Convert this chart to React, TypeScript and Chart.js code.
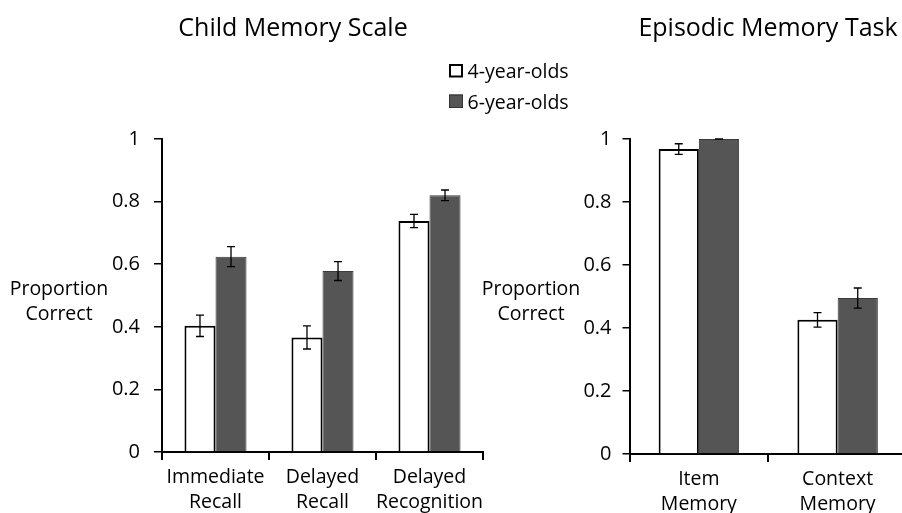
import React, { useEffect, useRef } from 'react';
import { Chart, registerables } from 'chart.js';

Chart.register(...registerables);

const FONT = '"Open Sans", Lato, sans-serif';

// ---- Data ----
const seriesLabels = ['4-year-olds', '6-year-olds'];

const memoryTitle = 'Child Memory Scale';
const memoryCategories = [['Immediate', 'Recall'], ['Delayed', 'Recall'], ['Delayed', 'Recognition']];
const memory4 = [0.403, 0.366, 0.738];
const memory4Err = [0.034, 0.037, 0.021];
const memory6 = [0.624, 0.578, 0.82];
const memory6Err = [0.032, 0.03, 0.017];

const episodicTitle = 'Episodic Memory Task';
const episodicCategories = [['Item', 'Memory'], ['Context', 'Memory']];
const episodic4 = [0.968, 0.426];
const episodic4Err = [0.017, 0.023];
const episodic6 = [1.0, 0.495];
const episodic6Err = [0, 0.032];

const yAxisTitle = ['Proportion', 'Correct'];
const yTickLabels = ['0', '0.2', '0.4', '0.6', '0.8', '1'];
const yMin = 0;
const yMax = 1;
const yStep = 0.2;

// ---- Styles ----
const LIGHT = '#ffffff';
const DARK = '#555555';
const H = 513;

type PanelSpec = {
  width: number;
  plotLeft: number;
  plotRight: number;
  plotTop: number;
  plotBottom: number;
  yTickLen: number;
  yTickPad: number;
  title: string;
  titleX: number;
  yTitleX: number;
  showLegend: boolean;
  categories: string[][];
  v4: number[];
  e4: number[];
  v6: number[];
  e6: number[];
};

function makeConfig(p: PanelSpec): any {
  const errorBars = {
    id: 'errorBars',
    afterDatasetsDraw(chart: any) {
      const ctx = chart.ctx;
      const yScale = chart.scales.y;
      const errs = [p.e4, p.e6];
      const vals = [p.v4, p.v6];
      ctx.save();
      ctx.strokeStyle = '#000';
      ctx.lineWidth = 1.3;
      for (let d = 0; d < 2; d++) {
        const meta = chart.getDatasetMeta(d);
        meta.data.forEach((bar: any, i: number) => {
          const v = vals[d][i];
          const e = errs[d][i];
          const x = bar.x;
          const yt = yScale.getPixelForValue(v + e);
          const yb = yScale.getPixelForValue(v - e);
          const cap = 4;
          ctx.beginPath();
          ctx.moveTo(x, yt);
          ctx.lineTo(x, yb);
          ctx.moveTo(x - cap, yt);
          ctx.lineTo(x + cap, yt);
          ctx.moveTo(x - cap, yb);
          ctx.lineTo(x + cap, yb);
          ctx.stroke();
        });
      }
      ctx.restore();
    },
  };

  const overlay = {
    id: 'overlay',
    afterDraw(chart: any) {
      const ctx = chart.ctx;
      ctx.save();
      ctx.fillStyle = '#000';
      // title
      ctx.font = `25px ${FONT}`;
      ctx.textAlign = 'center';
      ctx.textBaseline = 'alphabetic';
      ctx.fillText(p.title, p.titleX, 35.5);
      // horizontal y-axis title
      ctx.font = `19.5px ${FONT}`;
      ctx.fillText(yAxisTitle[0], p.yTitleX, 295);
      ctx.fillText(yAxisTitle[1], p.yTitleX, 320);
      // legend
      if (p.showLegend) {
        const fills = [LIGHT, DARK];
        const borders = ['#000', '#333'];
        ctx.textAlign = 'left';
        ctx.font = `19.5px ${FONT}`;
        for (let i = 0; i < 2; i++) {
          const top = 64 + i * 30.5;
          ctx.fillStyle = fills[i];
          ctx.fillRect(449, top, 14, 13.5);
          ctx.strokeStyle = borders[i];
          ctx.lineWidth = i === 0 ? 2 : 1;
          ctx.strokeRect(449 + (i === 0 ? 1 : 0.5), top + (i === 0 ? 1 : 0.5), i === 0 ? 12 : 13, i === 0 ? 11.5 : 12.5);
          ctx.fillStyle = '#000';
          ctx.fillText(seriesLabels[i], 467.5, 77.5 + i * 31);
        }
      }
      ctx.restore();
    },
  };

  return {
    type: 'bar',
    data: {
      labels: p.categories,
      datasets: [
        {
          label: seriesLabels[0],
          data: p.v4,
          backgroundColor: LIGHT,
          borderColor: '#000',
          borderWidth: 2,
          borderSkipped: 'start',
          categoryPercentage: 0.58,
          barPercentage: 1.0,
        },
        {
          label: seriesLabels[1],
          data: p.v6,
          backgroundColor: DARK,
          borderColor: '#3a3a3a',
          borderWidth: 1,
          borderSkipped: 'start',
          categoryPercentage: 0.58,
          barPercentage: 1.0,
        },
      ],
    },
    options: {
      responsive: false,
      animation: false,
      events: [],
      layout: {
        padding: { left: 0, right: p.width - p.plotRight, top: p.plotTop, bottom: 0 },
      },
      plugins: {
        legend: { display: false },
        title: { display: false },
        tooltip: { enabled: false },
      },
      scales: {
        x: {
          type: 'category',
          offset: true,
          afterFit(s: any) {
            s.height = H - p.plotBottom;
          },
          grid: {
            offset: true,
            drawOnChartArea: false,
            drawTicks: true,
            tickLength: 8,
            color: '#000',
            lineWidth: 2,
          },
          border: { display: true, color: '#000', width: 2 },
          ticks: {
            color: '#000',
            font: { family: FONT, size: 19.5, lineHeight: 1.28 },
            padding: 4.5,
            maxRotation: 0,
            autoSkip: false,
          },
        },
        y: {
          type: 'linear',
          min: yMin,
          max: yMax,
          afterFit(s: any) {
            s.width = p.plotLeft;
          },
          grid: {
            drawOnChartArea: false,
            drawTicks: true,
            tickLength: p.yTickLen,
            color: '#000',
            lineWidth: 1.5,
          },
          border: { display: true, color: '#000', width: 2 },
          ticks: {
            stepSize: yStep,
            color: '#000',
            font: { family: FONT, size: 20 },
            padding: p.yTickPad,
            callback: (_v: any, i: number) => yTickLabels[i],
          },
        },
      },
    },
    plugins: [errorBars, overlay],
  };
}

function Panel({ left, spec }: { left: number; spec: PanelSpec }) {
  const ref = useRef<HTMLCanvasElement>(null);
  useEffect(() => {
    const chart = new Chart(ref.current as HTMLCanvasElement, makeConfig(spec));
    return () => chart.destroy();
  }, []);
  return (
    <canvas
      ref={ref}
      width={spec.width}
      height={H}
      style={{ position: 'absolute', left, top: 0, width: spec.width, height: H }}
    />
  );
}

const leftSpec: PanelSpec = {
  width: 620,
  plotLeft: 162,
  plotRight: 483,
  plotTop: 139,
  plotBottom: 452,
  yTickLen: 8,
  yTickPad: 14,
  title: memoryTitle,
  titleX: 293,
  yTitleX: 59,
  showLegend: true,
  categories: memoryCategories,
  v4: memory4,
  e4: memory4Err,
  v6: memory6,
  e6: memory6Err,
};

const RIGHT_OFFSET = 470;
const rightSpec: PanelSpec = {
  width: 440,
  plotLeft: 629.5 - RIGHT_OFFSET,
  plotRight: 907 - RIGHT_OFFSET,
  plotTop: 139,
  plotBottom: 454,
  yTickLen: 7,
  yTickPad: 11,
  title: episodicTitle,
  titleX: 768 - RIGHT_OFFSET,
  yTitleX: 531 - RIGHT_OFFSET,
  showLegend: false,
  categories: episodicCategories,
  v4: episodic4,
  e4: episodic4Err,
  v6: episodic6,
  e6: episodic6Err,
};

export default function App() {
  return (
    <div
      style={{
        position: 'fixed',
        left: 0,
        top: 0,
        width: 902,
        height: H,
        overflow: 'hidden',
        background: '#fff',
      }}
    >
      <Panel left={0} spec={leftSpec} />
      <Panel left={RIGHT_OFFSET} spec={rightSpec} />
    </div>
  );
}
